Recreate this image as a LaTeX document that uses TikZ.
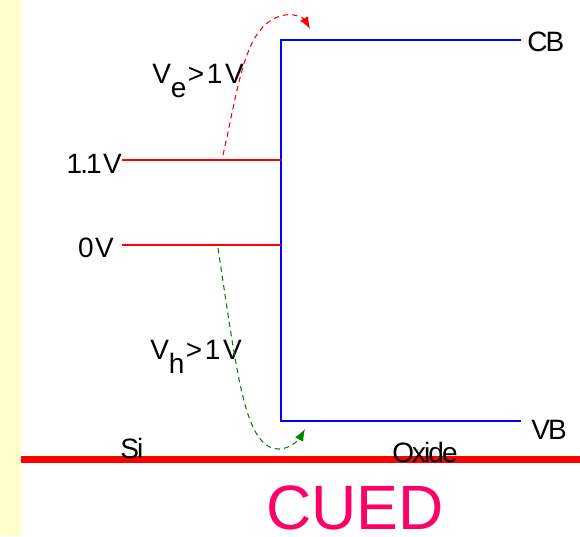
\documentclass[tikz,border=0pt]{standalone}
\usepackage{fontspec}
\setmainfont{Liberation Sans}
\newfontfamily\tightsans[LetterSpace=-7]{Liberation Sans}
\usetikzlibrary{arrows.meta}
\definecolor{paleyellow}{HTML}{FFFFCC}
\definecolor{cuedpink}{HTML}{FF0066}
\definecolor{darkgreen}{HTML}{008000}
\newcommand{\lowsub}[1]{\raisebox{-0.5em}{#1}}

\begin{document}
\begin{tikzpicture}[
    x=0.75pt, y=-0.75pt,
    label/.style={
        inner sep=0pt,
        font=\tightsans\fontsize{21}{23}\selectfont
    },
    band/.style={blue, line width=1.6pt},
    level/.style={red, line width=1.3pt},
    hop/.style={dashed, dash pattern=on 4pt off 3pt, line width=0.8pt,
        -{Latex[length=9pt,width=7pt]}}
]
\useasboundingbox (0,0) rectangle (580,536);

% Fondo
\fill[paleyellow] (0,0) rectangle (21,536);

% Bandas del oxido
\coordinate (cbleft) at (281,40);
\coordinate (cbright) at (521,40);
\coordinate (vbleft) at (281,421);
\coordinate (vbright) at (521,421);
\draw[band] (cbright) -- (cbleft) -- (vbleft) -- (vbright);

% Niveles del silicio
\coordinate (hileft) at (122,160);
\coordinate (hiright) at (281,160);
\coordinate (loleft) at (122,245);
\coordinate (loright) at (281,245);
\draw[level] (hileft) -- (hiright);
\draw[level] (loleft) -- (loright);

% Interfaz
\coordinate (ifleft) at (21,459.5);
\coordinate (ifright) at (580,459.5);
\draw[red, line width=5.2pt] (ifleft) -- (ifright);

% Etiquetas
\node[label, anchor=base east] (hi) at (122,173) {1.1\kern1pt V};
\node[label, anchor=base east] (lo) at (114,257) {0\kern1pt V};
\node[label, anchor=base west] (cb) at (527,51) {CB};
\node[label, anchor=base west] (vb) at (531,439) {VB};
\node[label, anchor=base west] (si) at (120,458) {Si};
\node[label, anchor=base west] (oxide) at (392,462) {Oxide};
\node[label, anchor=base west] (ve) at (152,83)
    {V\lowsub{e}\kern1pt>\kern2pt1\kern2pt V};
\node[label, anchor=base west] (vh) at (150,359)
    {V\lowsub{h}\kern1pt>\kern2pt1\kern2pt V};
\node[inner sep=0pt, anchor=base west, text=cuedpink,
    font=\fontsize{47}{50}\selectfont] (cued) at (266,529) {CUED};

% Saltos
\coordinate (estart) at (223,155);
\coordinate (eend) at (310,29);
\coordinate (hstart) at (218,248);
\coordinate (hend) at (305,429);
\draw[hop, red] (estart) .. controls (240,80) and (245,22) .. (285,15)
    .. controls (297,13) and (305,20) .. (eend);
\draw[hop, darkgreen] (hstart) .. controls (238,380) and (245,450) .. (280,449)
    .. controls (292,448) and (300,438) .. (hend);

\end{tikzpicture}
\end{document}
